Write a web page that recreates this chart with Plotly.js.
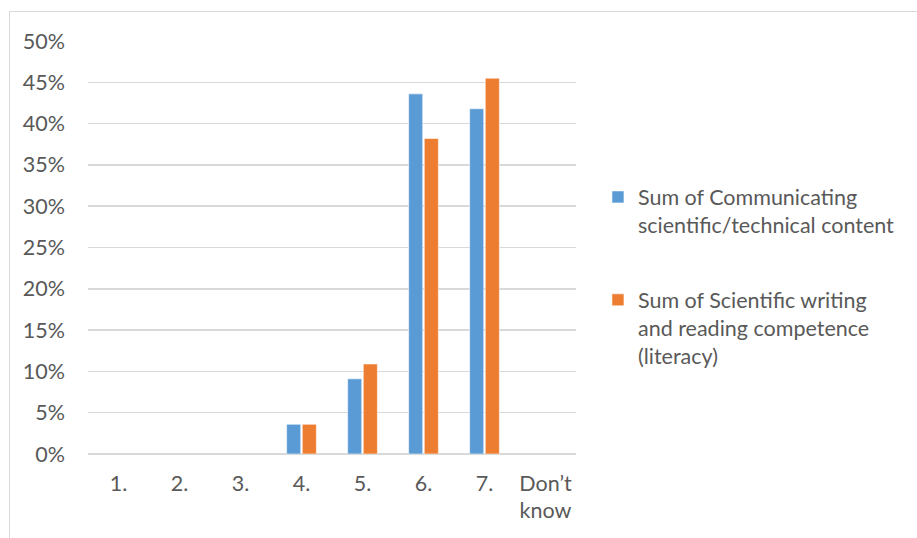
<!DOCTYPE html>
<html>
<head>
<meta charset="utf-8">
<script src="https://cdn.plot.ly/plotly-3.0.1.min.js"></script>
<style>
  html, body { margin: 0; padding: 0; background: #ffffff; }
  #wrap { position: relative; width: 917px; height: 538px; overflow: hidden; }
  #frame { position: absolute; left: 9px; top: 11px; width: 1000px; height: 700px;
           border: 1.5px solid #d9d9d9; box-sizing: border-box; }
  #chart { position: absolute; left: 0; top: 0; width: 917px; height: 538px; }
</style>
</head>
<body>
<div id="wrap">
  <div id="frame"></div>
  <div id="chart"></div>
</div>
<script>
// Rating scale categories
const categories = ['1.', '2.', '3.', '4.', '5.', '6.', '7.', 'Don’t know'];
const tickLabels = ['1.', '2.', '3.', '4.', '5.', '6.', '7.', 'Don’t<br>know'];

// Share of responses (%) per rating; null where no response
const communicating = [null, null, null, 3.6, 9.1, 43.6, 41.8, null];
const writingReading = [null, null, null, 3.6, 10.9, 38.2, 45.5, null];

const seriesNames = [
  'Sum of Communicating<br>scientific/technical content',
  'Sum of Scientific writing<br>and reading competence<br>(literacy)'
];

const textFont = { family: 'Lato, "Open Sans", sans-serif', size: 21.5, color: '#595959' };

const traces = [
  {
    type: 'bar', x: categories, y: communicating, name: seriesNames[0],
    legendgroup: 'a',
    marker: { color: '#5b9bd5', line: { color: 'rgba(255,255,255,0.7)', width: 0.8 } },
    hoverinfo: 'x+y'
  },
  {
    type: 'bar', x: categories, y: writingReading, name: seriesNames[1],
    legendgroup: 'b',
    marker: { color: '#ed7d31', line: { color: 'rgba(255,255,255,0.7)', width: 0.8 } },
    hoverinfo: 'x+y'
  }
];

const layout = {
  width: 917, height: 538,
  paper_bgcolor: 'rgba(0,0,0,0)', plot_bgcolor: 'rgba(0,0,0,0)',
  margin: { l: 88, r: 341, t: 41, b: 83.5 },
  barmode: 'group', bargap: 0.487, bargroupgap: 0.1,
  font: textFont,
  showlegend: true,
  legend: {
    x: 1.045, xanchor: 'left', y: 0.672, yanchor: 'top',
    traceorder: 'grouped', tracegroupgap: 44, valign: 'top',
    font: textFont, itemwidth: 30, bgcolor: 'rgba(0,0,0,0)'
  },
  xaxis: {
    type: 'category', tickmode: 'array', tickvals: categories, ticktext: tickLabels,
    showgrid: false, zeroline: false, showline: false, ticks: '',
    ticklabelstandoff: 14, tickfont: textFont, fixedrange: true
  },
  yaxis: {
    range: [0, 50], dtick: 5, ticksuffix: '%',
    showgrid: true, gridcolor: '#d9d9d9', gridwidth: 1.5,
    zeroline: true, zerolinecolor: '#d9d9d9', zerolinewidth: 1.5,
    showline: false, ticks: '', ticklabelstandoff: 22,
    tickfont: textFont, fixedrange: true
  }
};

Plotly.newPlot('chart', traces, layout, { displayModeBar: false, staticPlot: true });
</script>
</body>
</html>
